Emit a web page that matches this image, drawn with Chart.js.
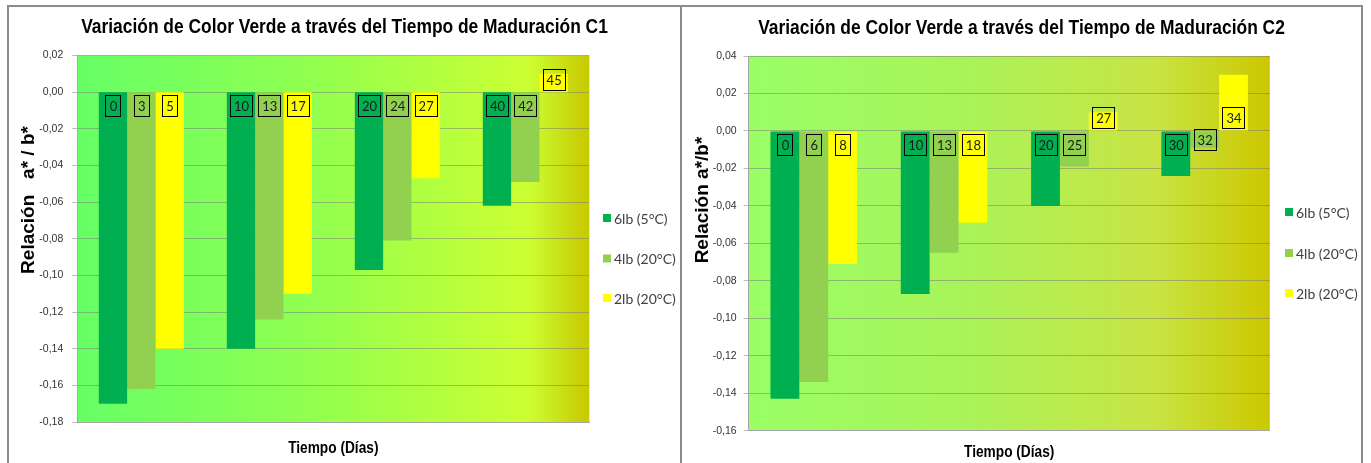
<!DOCTYPE html>
<html>
<head>
<meta charset="utf-8">
<script src="https://cdn.jsdelivr.net/npm/chart.js@4.4.0/dist/chart.umd.min.js"></script>
<style>
  body { margin: 0; background: #fff; width: 1371px; height: 463px; overflow: hidden; position: relative; }
  #p1 { position: absolute; left: 7px; top: 5px; width: 671px; height: 470px; border: 2px solid #8c8c8c; }
  #p2 { position: absolute; left: 682px; top: 5px; width: 679px; height: 470px; border: 2px solid #8c8c8c; border-left: none; }
  canvas { display: block; }
</style>
</head>
<body>
<div id="p1"><canvas id="c1" width="671" height="456"></canvas></div>
<div id="p2"><canvas id="c2" width="679" height="456"></canvas></div>
<script>
// categorías (grupos de tiempo, sin etiqueta visible en el eje)
const categorias = ['T1', 'T2', 'T3', 'T4'];
const series = ['6lb (5°C)', '4lb (20°C)', '2lb (20°C)'];
const colores = ['#00B050', '#92D050', '#FFFF00'];

// C1: relación a*/b* y días de cada barra
const c1_6lb = [-0.170, -0.140, -0.097, -0.062];
const c1_4lb = [-0.162, -0.124, -0.081, -0.049];
const c1_2lb = [-0.140, -0.110, -0.047, 0.010];
const c1_dias6 = [0, 10, 20, 40];
const c1_dias4 = [3, 13, 24, 42];
const c1_dias2 = [5, 17, 27, 45];
const c1_min = -0.18, c1_max = 0.02;

// C2
const c2_6lb = [-0.143, -0.087, -0.040, -0.024];
const c2_4lb = [-0.134, -0.065, -0.019, -0.009];
const c2_2lb = [-0.071, -0.049, 0.010, 0.030];
const c2_dias6 = [0, 10, 20, 30];
const c2_dias4 = [6, 13, 25, 32];
const c2_dias2 = [8, 18, 27, 34];
const c2_min = -0.16, c2_max = 0.04;

const paso = 0.02;

const SANS = "'Liberation Sans', Arial, sans-serif";

// fondo degradado del área de trazado
const fondo = {
  id: 'fondo',
  beforeDraw(chart, args, opts) {
    const { ctx, chartArea: a } = chart;
    const g = ctx.createLinearGradient(a.left, 0, a.right, 0);
    opts.stops.forEach(([p, c]) => g.addColorStop(p, c));
    ctx.save();
    ctx.fillStyle = g;
    ctx.fillRect(a.left, a.top, a.right - a.left, a.bottom - a.top);
    ctx.restore();
  }
};

// etiquetas de días con recuadro
const etiquetas = {
  id: 'etiquetas',
  afterDatasetsDraw(chart, args, opts) {
    const ctx = chart.ctx;
    ctx.save();
    ctx.font = opts.font;
    ctx.textAlign = 'center';
    ctx.textBaseline = 'middle';
    chart.data.datasets.forEach((ds, i) => {
      chart.getDatasetMeta(i).data.forEach((bar, j) => {
        const txt = String(ds.dias[j]);
        const w = Math.round(ctx.measureText(txt).width + 7), h = 21;
        const len = Math.abs(bar.y - bar.base);
        let top;
        if (ds.data[j] >= 0) top = bar.base - 2 - h;
        else if (len < h + 3) top = (bar.y + bar.base) / 2 - h / 2;
        else top = bar.base + 3;
        top = Math.round(top);
        const left = Math.round(bar.x - w / 2);
        ctx.strokeStyle = '#000';
        ctx.lineWidth = 1;
        ctx.strokeRect(left + 0.5, top + 0.5, w, h);
        ctx.fillStyle = '#1a1a1a';
        ctx.fillText(txt, bar.x + 0.5, top + h / 2 + 1);
      });
    });
    ctx.restore();
  }
};

// leyenda a la derecha
const leyenda = {
  id: 'leyenda',
  afterDraw(chart, args, opts) {
    const ctx = chart.ctx;
    ctx.save();
    ctx.font = opts.font;
    ctx.textBaseline = 'middle';
    chart.data.datasets.forEach((ds, i) => {
      const y = opts.y[i];
      ctx.fillStyle = ds.backgroundColor;
      ctx.fillRect(opts.x, y - 4, 8, 8);
      ctx.fillStyle = '#404040';
      ctx.fillText(ds.label, opts.x + 11, y + 1);
    });
    ctx.restore();
  }
};

// títulos (principal, eje X, eje Y) con letra estrecha
const textos = {
  id: 'textos',
  afterDraw(chart, args, opts) {
    const ctx = chart.ctx;
    const a = chart.chartArea;
    const items = [
      { text: opts.titulo, x: chart.width / 2, y: opts.tituloY, font: 'bold 20px ' + SANS, sx: 0.87 },
      { text: 'Tiempo (Días)', x: (a.left + a.right) / 2, y: opts.ejeXY, font: 'bold 16.5px ' + SANS, sx: 0.83 },
      { text: opts.ejeY, x: opts.ejeYX, y: opts.ejeYY, font: 'bold 19px ' + SANS, sx: 1, rot: -Math.PI / 2 }
    ];
    items.forEach(t => {
      ctx.save();
      ctx.translate(t.x, t.y);
      if (t.rot) ctx.rotate(t.rot);
      ctx.scale(t.sx, 1);
      ctx.font = t.font;
      ctx.fillStyle = '#000';
      ctx.textAlign = 'center';
      ctx.textBaseline = 'middle';
      ctx.fillText(t.text, 0, 0);
      ctx.restore();
    });
  }
};

function coma(v) {
  if (Math.abs(v) < 1e-9) v = 0;
  return v.toFixed(2).replace('.', ',');
}

function grafico(id, c) {
  new Chart(document.getElementById(id), {
    type: 'bar',
    data: {
      labels: categorias,
      datasets: [
        { label: series[0], data: c.v6, dias: c.d6, backgroundColor: colores[0] },
        { label: series[1], data: c.v4, dias: c.d4, backgroundColor: colores[1] },
        { label: series[2], data: c.v2, dias: c.d2, backgroundColor: colores[2] }
      ]
    },
    options: {
      responsive: false,
      animation: false,
      layout: { padding: c.pad },
      datasets: { bar: { categoryPercentage: 0.664, barPercentage: 1 } },
      plugins: {
        legend: { display: false },
        tooltip: { enabled: false },
        title: { display: false },
        fondo: { stops: c.stops },
        etiquetas: { font: "13px Lato, 'Liberation Sans', sans-serif" },
        leyenda: { x: c.legX, y: c.legY, font: "14px Lato, 'Liberation Sans', sans-serif" },
        textos: { titulo: c.titulo, tituloY: c.tituloPos, ejeXY: c.ejeXY, ejeY: c.ejeY, ejeYX: c.ejeYX, ejeYY: c.ejeYY }
      },
      scales: {
        x: {
          grid: { display: false, drawTicks: false },
          border: { display: true, color: '#A6A6A6' },
          ticks: { display: false }
        },
        y: {
          min: c.min,
          max: c.max,
          ticks: {
            stepSize: paso,
            callback: v => coma(v),
            color: '#333',
            font: { family: SANS, size: 10.5 },
            padding: c.tickPad
          },
          grid: { color: 'rgba(120,120,120,0.5)', tickLength: 5 },
          border: { color: '#A6A6A6' },
          afterFit(s) { s.width = c.ancho; }
        }
      }
    },
    plugins: [fondo, etiquetas, leyenda, textos]
  });
}

grafico('c1', {
  titulo: 'Variación de Color Verde a través del Tiempo de Maduración C1',
  ejeY: 'Relación   a* / b*',
  v6: c1_6lb, v4: c1_4lb, v2: c1_2lb,
  d6: c1_dias6, d4: c1_dias4, d2: c1_dias2,
  min: c1_min, max: c1_max,
  pad: { left: 0, right: 90.7, top: 48.5, bottom: 41 },
  ancho: 68.3, tickPad: 9,
  tituloPos: 20, ejeXY: 441, ejeYX: 20, ejeYY: 193,
  stops: [[0, '#66FF66'], [0.45, '#90FF50'], [0.88, '#CCFF33'], [1, '#C8C800']],
  legX: 594, legY: [211, 251.5, 291]
});

grafico('c2', {
  titulo: 'Variación de Color Verde a través del Tiempo de Maduración C2',
  ejeY: 'Relación a*/b*',
  v6: c2_6lb, v4: c2_4lb, v2: c2_2lb,
  d6: c2_dias6, d4: c2_dias4, d2: c2_dias2,
  min: c2_min, max: c2_max,
  pad: { left: 0, right: 91.2, top: 49, bottom: 32.3 },
  ancho: 66.6, tickPad: 7,
  tituloPos: 21, ejeXY: 445, ejeYX: 21, ejeYY: 193,
  stops: [[0, '#99FF66'], [0.4, '#A8F45A'], [0.78, '#C8E444'], [1, '#CCC800']],
  legX: 603, legY: [205, 246, 286]
});
</script>
</body>
</html>
